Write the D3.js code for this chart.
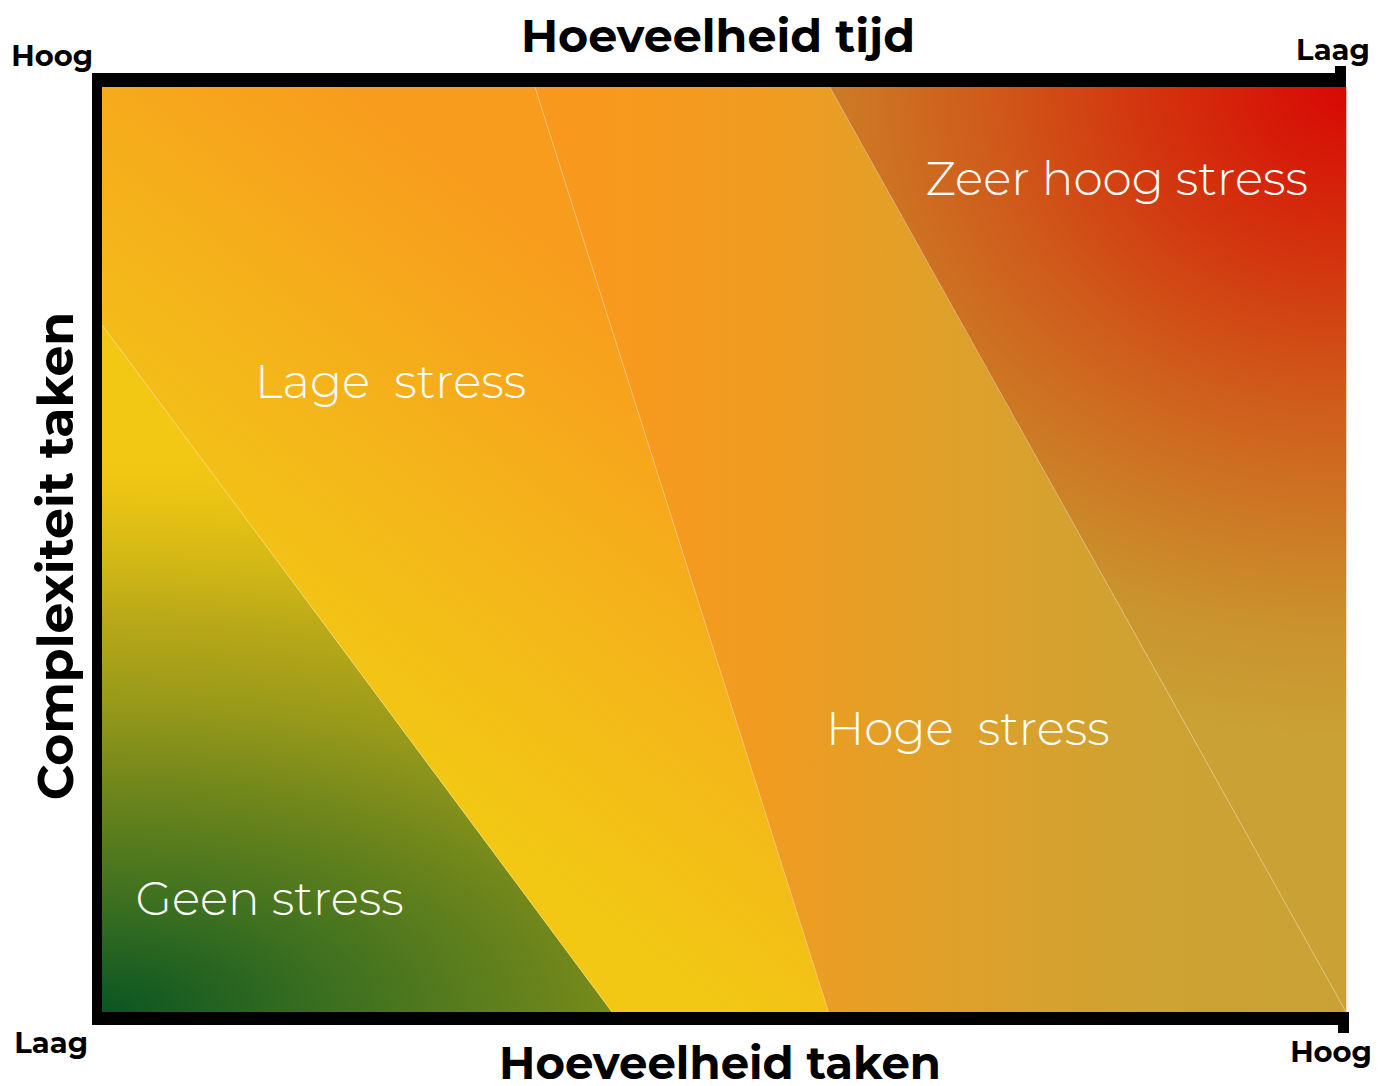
<!DOCTYPE html>
<html>
<head>
<meta charset="utf-8">
<script src="https://cdn.jsdelivr.net/npm/d3@7"></script>
<style>
  body { margin: 0; background: #fff; }
  svg { display: block; }
  .axis_title { font-family: Montserrat, 'Noto Sans', sans-serif; font-weight: 700; fill: #000; }
  .end_label { font-family: Montserrat, 'Noto Sans', sans-serif; font-weight: 700; fill: #000; font-size: 29px; }
  .zone_label { font-family: Montserrat, Lato, 'Open Sans', sans-serif; font-weight: 300; fill: #fff; font-size: 47px; white-space: pre; }
</style>
</head>
<body>
<svg id="graph" width="1389" height="1086"></svg>
<script>
/*******************************************************************************************/
// Data: x = hoeveelheid taken (0 laag .. 1 hoog), y = complexiteit taken (0 laag .. 1 hoog)

var zoneNames = ['Geen stress', 'Lage  stress', 'Hoge  stress', 'Zeer hoog stress'];
var zoneIds = ['geen', 'lage', 'hoge', 'zeer'];

var zonePolygons = [
  [[0, 0], [0, 0.743], [0.41, 0]],
  [[0, 0.743], [0, 1], [0.348, 1], [0.584, 0], [0.41, 0]],
  [[0.348, 1], [0.585, 1], [1, 0], [0.584, 0]],
  [[0.585, 1], [1, 1], [1, 0]]
];

// zone borders (thin light lines)
var zoneBorders = [
  [[0, 0.743], [0.41, 0]],
  [[0.348, 1], [0.584, 0]],
  [[0.585, 1], [1, 0]]
];

// where each zone label starts (left, baseline)
var zoneLabelAt = [[0.027, 0.105], [0.123, 0.664], [0.582, 0.289], [0.662, 0.883]];

var xTitle = 'Hoeveelheid taken';
var topTitle = 'Hoeveelheid tijd';
var yTitle = 'Complexiteit taken';
var xEndLabels = ['Laag', 'Hoog'];
var topEndLabels = ['Hoog', 'Laag'];

/*******************************************************************************************/
// Scales

var xScale = d3.scaleLinear().domain([0, 1]).range([102, 1346]);
var yScale = d3.scaleLinear().domain([0, 1]).range([1012, 87]);
var lineGen = d3.line().x(function(d){ return xScale(d[0]) }).y(function(d){ return yScale(d[1]) });

var svg = d3.select('#graph');
var defs = svg.append('defs');

/*******************************************************************************************/
// Gradients

function addStops(grad, stops){
  stops.forEach(function(s){ grad.append('stop').attr('offset', s[0]).attr('stop-color', s[1]); });
}

var gx = xScale(0), gy = yScale(0);
var geen = defs.append('radialGradient').attr('id', 'grad_geen').attr('gradientUnits', 'userSpaceOnUse')
  .attr('cx', gx).attr('cy', gy).attr('r', 560)
  .attr('gradientTransform', 'translate(' +gx+ ',' +gy+ ') scale(2.1,1) translate(' +(-gx)+ ',' +(-gy)+ ')');
addStops(geen, [[0, '#0a5523'], [0.2, '#3d7020'], [0.38, '#6a841c'], [0.56, '#999a1a'], [0.7, '#b8a818'],
                [0.8, '#d0b716'], [0.91, '#e8c214'], [0.97, '#f1c714'], [1, '#f2c814']]);

var lage = defs.append('linearGradient').attr('id', 'grad_lage').attr('gradientUnits', 'userSpaceOnUse')
  .attr('x1', 250).attr('y1', 650).attr('x2', 560).attr('y2', 250);
addStops(lage, [[0, '#f2c814'], [0.45, '#f4b61a'], [1, '#f89c1d']]);

var hoge = defs.append('linearGradient').attr('id', 'grad_hoge').attr('gradientUnits', 'userSpaceOnUse')
  .attr('x1', 600).attr('y1', 0).attr('x2', 1344).attr('y2', 0);
addStops(hoge, [[0, '#f8991d'], [0.22, '#f09c21'], [0.47, '#dfa02a'], [0.74, '#cea233'], [1, '#c9a235']]);

var zx = xScale(1), zy = yScale(1);
var zeer = defs.append('radialGradient').attr('id', 'grad_zeer').attr('gradientUnits', 'userSpaceOnUse')
  .attr('cx', zx).attr('cy', zy).attr('r', 650)
  .attr('gradientTransform', 'translate(' +zx+ ',' +zy+ ') scale(1.15,1) translate(' +(-zx)+ ',' +(-zy)+ ')');
addStops(zeer, [[0, '#d80804'], [0.3, '#d23a10'], [0.5, '#cf5e1c'], [0.68, '#cc7a25'], [0.83, '#ca922d'], [1, '#c9a134']]);

/*******************************************************************************************/
// Zones

svg.append('g').selectAll('path').data(zonePolygons).enter().append('path')
  .attr('d', function(d){ return lineGen(d) + 'Z' })
  .attr('fill', function(d, i){ return 'url(#grad_' + zoneIds[i] + ')' })
  .attr('stroke', function(d, i){ return 'url(#grad_' + zoneIds[i] + ')' })
  .attr('stroke-width', 0.6);

svg.append('g').selectAll('path').data(zoneBorders).enter().append('path')
  .attr('d', lineGen)
  .attr('fill', 'none')
  .attr('stroke', 'rgba(255,255,255,0.35)')
  .attr('stroke-width', 1);

svg.append('g').selectAll('text').data(zoneLabelAt).enter().append('text')
  .attr('class', 'zone_label')
  .attr('x', function(d){ return xScale(d[0]) })
  .attr('y', function(d){ return yScale(d[1]) })
  .text(function(d, i){ return zoneNames[i] });

/*******************************************************************************************/
// Frame

var fLeft = xScale(0), fRight = xScale(1), fTop = yScale(1), fBottom = yScale(0);
var frame = svg.append('g').attr('fill', '#000');
frame.append('rect').attr('x', fLeft - 10).attr('y', fTop - 14).attr('width', fRight - fLeft + 10).attr('height', 14);
frame.append('rect').attr('x', fRight - 11).attr('y', fTop - 21).attr('width', 11).attr('height', 21);
frame.append('rect').attr('x', fLeft - 10).attr('y', fTop - 14).attr('width', 10).attr('height', fBottom - fTop + 27);
frame.append('rect').attr('x', fLeft - 10).attr('y', fBottom).attr('width', fRight - fLeft + 13).attr('height', 13);
frame.append('rect').attr('x', fRight - 8).attr('y', fBottom).attr('width', 11).attr('height', 21);

/*******************************************************************************************/
// Titles and end labels

svg.append('text').attr('class', 'axis_title').attr('x', 718).attr('y', 52)
  .style('font-size', '46px').style('text-anchor', 'middle').text(topTitle);

svg.append('text').attr('class', 'axis_title').attr('x', 720).attr('y', 1079)
  .style('font-size', '45px').style('text-anchor', 'middle').text(xTitle);

svg.append('g').attr('transform', 'translate(' +73+ ',' +556+ ') rotate(-90)')
  .append('text').attr('class', 'axis_title').style('font-size', '49px').style('text-anchor', 'middle').text(yTitle);

svg.append('text').attr('class', 'end_label').attr('x', fLeft - 9).attr('y', 66).style('text-anchor', 'end').text(topEndLabels[0]);
svg.append('text').attr('class', 'end_label').attr('x', fRight - 13).attr('y', 60).style('text-anchor', 'middle').text(topEndLabels[1]);
svg.append('text').attr('class', 'end_label').attr('x', fLeft - 14).attr('y', 1053).style('text-anchor', 'end').text(xEndLabels[0]);
svg.append('text').attr('class', 'end_label').attr('x', fRight - 15).attr('y', 1062).style('text-anchor', 'middle').text(xEndLabels[1]);
</script>
</body>
</html>
